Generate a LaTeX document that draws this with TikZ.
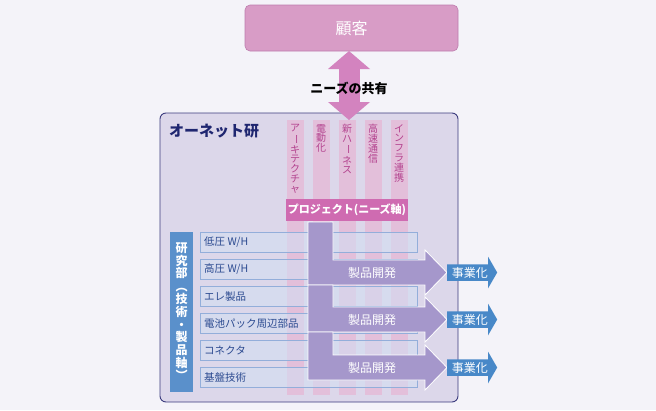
\documentclass[tikz,border=0pt]{standalone}
\usepackage{fontspec}
\setmainfont{Noto Sans CJK JP}
\usetikzlibrary{arrows.meta,calc,positioning,shapes.arrows}
\definecolor{pagebg}{HTML}{F4F3F9}
\definecolor{custpink}{HTML}{D89CC6}
\definecolor{custedge}{HTML}{BE7CAE}
\definecolor{needpink}{HTML}{D383BF}
\definecolor{labfill}{HTML}{DCD7EA}
\definecolor{labedge}{HTML}{3B3B7E}
\definecolor{labnavy}{HTML}{1F2670}
\definecolor{colpink}{HTML}{E3BFDA}
\definecolor{coltext}{HTML}{B3428E}
\definecolor{projpink}{HTML}{CF6BB1}
\definecolor{deptblue}{HTML}{5A90CB}
\definecolor{rowfill}{HTML}{D3DEF2}
\definecolor{rowedge}{HTML}{93AEDA}
\definecolor{rowtext}{HTML}{2B4A90}
\definecolor{prodpurple}{HTML}{A597CB}
\definecolor{bizblue}{HTML}{4888C8}
\newcommand{\vlong}{\rotatebox[origin=c]{-90}{ー}}
\newcommand{\vopen}{\rotatebox[origin=c]{-90}{（}}
\newcommand{\vclose}{\rotatebox[origin=c]{-90}{）}}
\tikzset{
  custbox/.style={draw=custedge, fill=custpink, rounded corners=5pt, line width=0.6pt,
    minimum width=213pt, minimum height=46pt, inner sep=0pt, text=white,
    font=\fontsize{16}{16}\selectfont},
  labbox/.style={draw=labedge, fill=labfill, rounded corners=6pt, line width=0.9pt,
    minimum width=298pt, minimum height=289pt, inner sep=0pt},
  labtitle/.style={text=labnavy, font=\fontsize{15}{15}\selectfont\bfseries, inner sep=0pt},
  needs/.style={draw=needpink, line width=21pt,
    {Triangle[width=41pt,length=18pt]}-{Triangle[width=41pt,length=18pt]}},
  needlabel/.style={font=\fontsize{13}{13}\selectfont\bfseries, inner sep=0pt},
  col/.style={fill=colpink, minimum width=17pt, minimum height=275pt, inner sep=0pt, anchor=north},
  coltxt/.style={text=coltext, align=center, inner sep=0pt, anchor=north,
    font=\fontsize{10}{9.8}\selectfont},
  projbar/.style={fill=projpink, text=white, minimum width=122pt, minimum height=22pt,
    inner sep=0pt, font=\fontsize{11}{11}\selectfont\bfseries},
  deptbar/.style={fill=deptblue, minimum width=23pt, minimum height=160pt, inner sep=0pt,
    anchor=north west},
  depttxt/.style={text=white, align=center, inner sep=0pt,
    font=\fontsize{12}{12.8}\selectfont\bfseries},
  rowbox/.style={draw=rowedge, fill=rowfill, fill opacity=0.6, line width=0.6pt,
    minimum width=217pt, minimum height=20pt, inner sep=0pt, anchor=north west},
  rowtxt/.style={text=rowtext, inner sep=0pt, anchor=west, font=\fontsize{10.5}{10.5}\selectfont},
  prodarrow/.style={fill=prodpurple, draw=white, line width=0.8pt, line join=miter},
  prodtxt/.style={text=white, inner sep=0pt, font=\fontsize{12}{12}\selectfont},
  bizarrow/.style={single arrow, fill=bizblue, text=white, minimum height=50pt,
    single arrow head extend=7.5pt, single arrow tip angle=120,
    inner xsep=2pt, inner ysep=2.5pt, font=\fontsize{12}{12}\selectfont}
}

\begin{document}
\begin{tikzpicture}[x=1pt,y=-1pt]
  \useasboundingbox[fill=pagebg] (0,0) rectangle (656,410);

  % customer and lab
  \node[custbox] (cust) at (351.5,28) {顧客};
  \node[labbox] (lab) at (309,257.5) {};
  \node[labtitle, anchor=west] (labname) at (169,131) {オーネット研};

  % needs columns
  \foreach \x/\txt [count=\i] in {295/{ア\\\vlong\\キ\\テ\\ク\\チ\\ャ},
      321/{電\\動\\化}, 347/{新\\ハ\\\vlong\\ネ\\ス},
      373/{高\\速\\通\\信}, 399/{イ\\ン\\フ\\ラ\\連\\携}} {
    \node[col] (col\i) at (\x,120) {};
    \node[coltxt] (coltxt\i) at (\x,124) {\txt};
  }
  \node[projbar] (proj) at (347,210) {プロジェクト(ニーズ軸)};

  % research side
  \node[deptbar] (dept) at (170,232) {};
  \node[depttxt] (depttxt) at (dept) {研\\究\\部\\\vopen\\技\\術\\・\\製\\品\\軸\\\vclose};
  \foreach \y/\txt [count=\i] in {232/{低圧 W/H}, 259/{高圧 W/H}, 286/{エレ製品},
      313/{電池パック周辺部品}, 340/{コネクタ}, 367/{基盤技術}} {
    \node[rowbox] (r\i) at (200,\y) {};
    \node[rowtxt, right=4pt of r\i.west] (rt\i) {\txt};
  }

  % shared needs
  \coordinate (needtop) at (349,51);
  \coordinate (needbot) at (349,120);
  \draw[needs] (needtop) -- (needbot);
  \node[needlabel] (needtext) at (349,88) {ニーズの共有};

  % product development -> business
  \foreach \t/\b [count=\i] in {222/260,285/307,332/355} {
    \draw[prodarrow] (308,\t) -- (333,\t) -- (333,\b) -- (425,\b) -- (425,\b-10)
      -- (447,\b+12.5) -- (425,\b+35) -- (425,\b+25) -- (308,\b+25) -- cycle;
    \node[prodtxt] (dev\i) at (372,\b+12.5) {製品開発};
    \node[bizarrow, anchor=west] (biz\i) at (447,\b+12.5) {事業化};
  }
\end{tikzpicture}
\end{document}
